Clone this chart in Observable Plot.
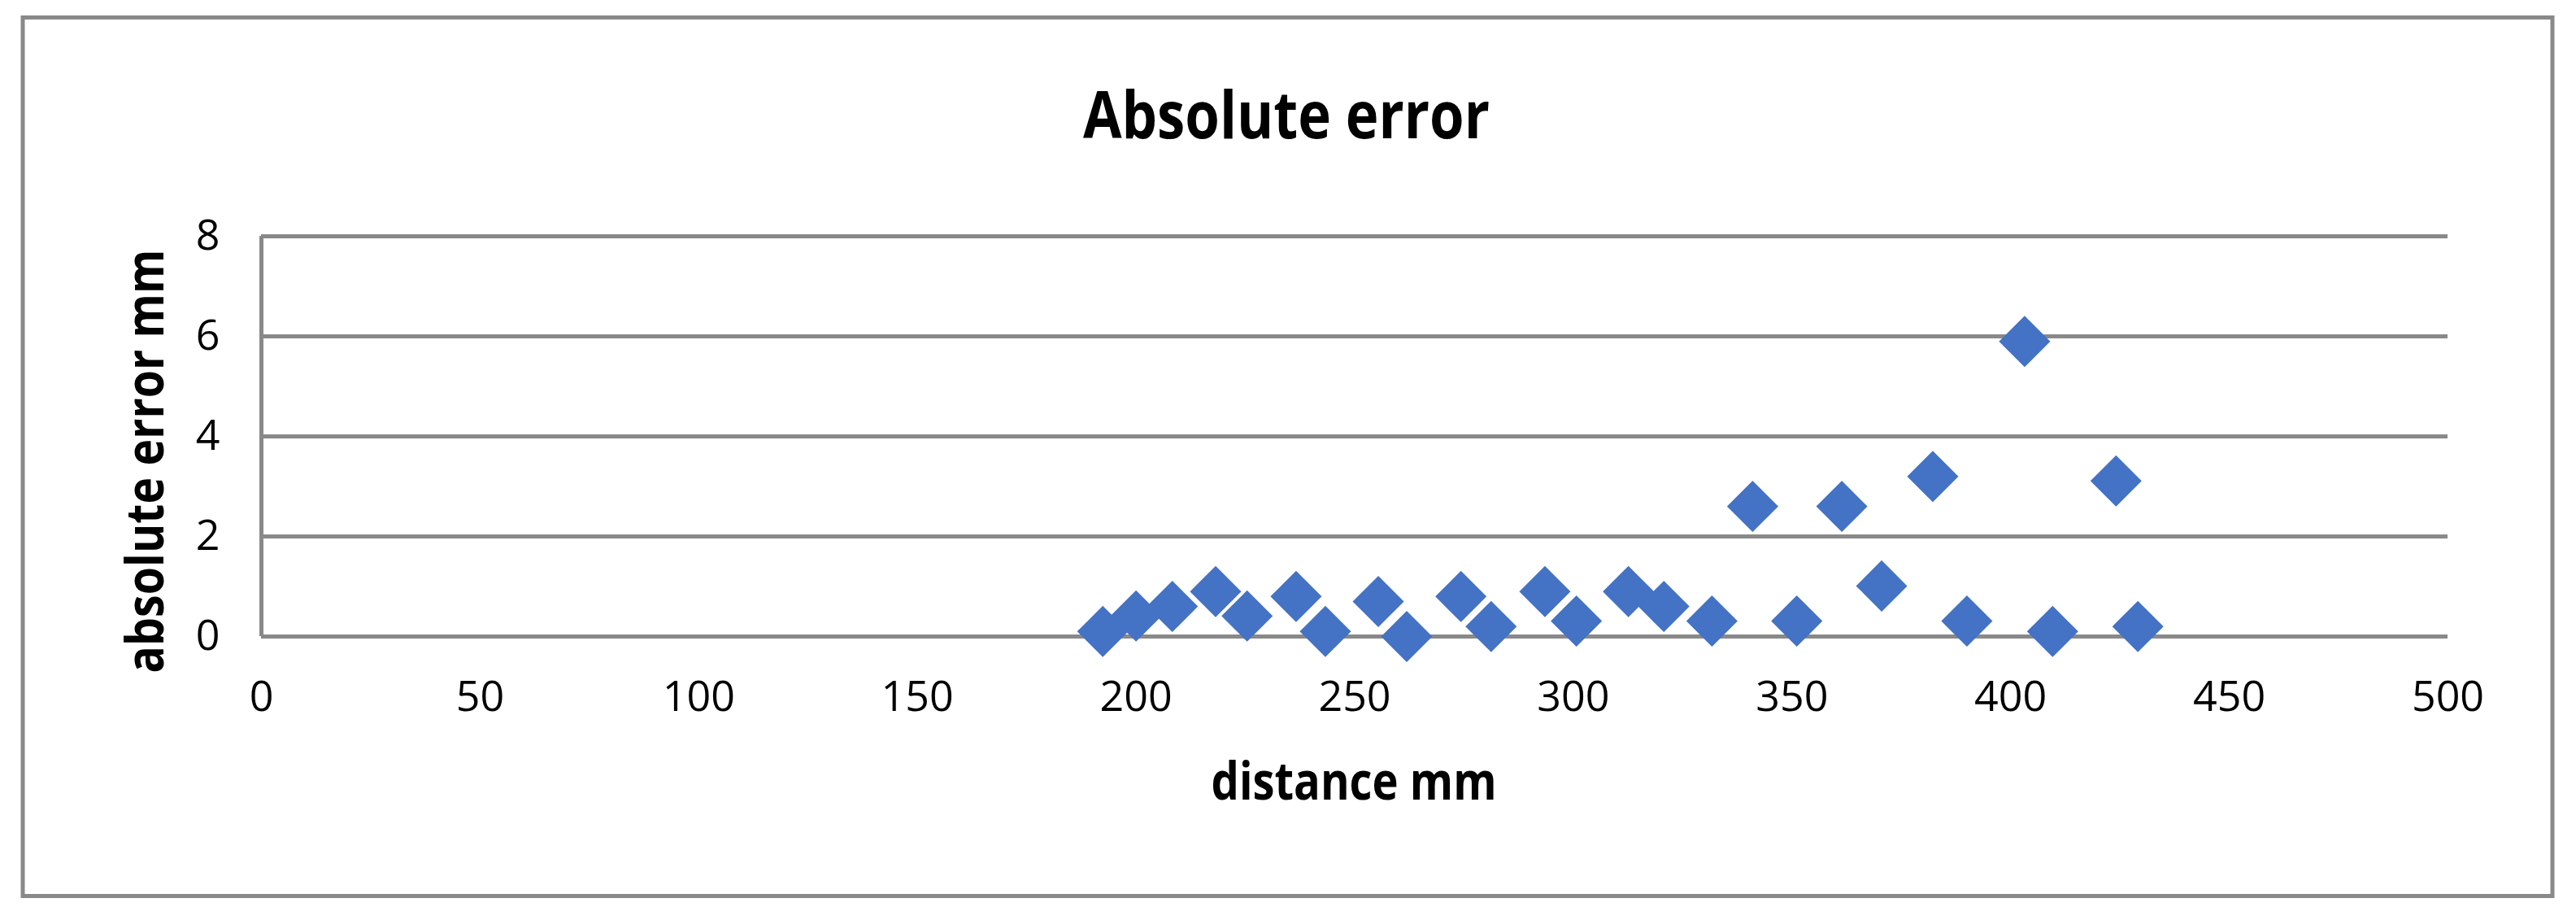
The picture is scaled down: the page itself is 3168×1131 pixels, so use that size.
<!DOCTYPE html>
<html>
<head>
<meta charset="utf-8">
<script src="https://cdn.jsdelivr.net/npm/d3@7"></script>
<script src="https://cdn.jsdelivr.net/npm/@observablehq/plot@0.6"></script>
<style>
  html, body { margin: 0; padding: 0; background: #ffffff; }
  #wrap { position: relative; width: 3168px; height: 1131px; background: #ffffff; overflow: hidden; }
  #chart, #overlay { position: absolute; left: 0; top: 0; }
  #overlay { pointer-events: none; }
</style>
</head>
<body>
<div id="wrap">
  <div id="chart"></div>
  <svg id="overlay" width="3168" height="1131" xmlns="http://www.w3.org/2000/svg">
    <rect x="28" y="21.5" width="3111" height="1080" fill="none" stroke="#898989" stroke-width="5"/>
    <text id="title" x="1582" y="170" text-anchor="middle" font-family="'Open Sans', 'Noto Sans', sans-serif" font-weight="700" font-size="80" textLength="500" lengthAdjust="spacingAndGlyphs" fill="#000">Absolute error</text>
    <text id="xlabel" x="1665" y="983" text-anchor="middle" font-family="'Open Sans', 'Noto Sans', sans-serif" font-weight="700" font-size="64" textLength="351" lengthAdjust="spacingAndGlyphs" fill="#000">distance mm</text>
    <text id="ylabel" transform="translate(201,567) rotate(-90)" text-anchor="middle" font-family="'Open Sans', 'Noto Sans', sans-serif" font-weight="700" font-size="64" textLength="521" lengthAdjust="spacingAndGlyphs" fill="#000">absolute error mm</text>
  </svg>
</div>
<script>
// Data
const distance = [192.4, 200.0, 208.3, 218.2, 225.4, 236.6, 243.3, 255.4, 261.9, 274.3, 281.2, 293.5, 300.7, 312.6, 320.7, 331.7, 341.0, 351.1, 361.4, 370.5, 382.2, 390.0, 403.2, 409.6, 424.1, 429.1];
const absError = [0.10, 0.41, 0.60, 0.90, 0.41, 0.80, 0.10, 0.70, 0.00, 0.80, 0.20, 0.90, 0.31, 0.90, 0.60, 0.31, 2.60, 0.31, 2.60, 1.01, 3.20, 0.31, 5.90, 0.10, 3.11, 0.20];
const xTicks = [0, 50, 100, 150, 200, 250, 300, 350, 400, 450, 500];
const yTicks = [0, 2, 4, 6, 8];

const data = distance.map((d, i) => ({distance: d, error: absError[i]}));

const gridColor = "#898989";
const pointColor = "#4472C4";

const chart = Plot.plot({
  width: 3168,
  height: 1131,
  marginLeft: 321,
  marginRight: 158,
  marginTop: 290,
  marginBottom: 349,
  style: {fontFamily: "'Open Sans', 'Noto Sans', sans-serif", fontSize: "52px", color: "#000", background: "transparent"},
  x: {domain: [0, 500]},
  y: {domain: [0, 8]},
  marks: [
    Plot.gridY(yTicks, {stroke: gridColor, strokeOpacity: 1, strokeWidth: 5}),
    Plot.ruleX([0], {stroke: gridColor, strokeOpacity: 1, strokeWidth: 5}),
    Plot.axisX(xTicks, {tickSize: 0, tickPadding: 55, label: null, fontSize: 52, tickFormat: d => String(d)}),
    Plot.axisY(yTicks, {tickSize: 0, tickPadding: 0, dx: -51, textAnchor: "end", label: null, fontSize: 52, tickFormat: d => String(d)}),
    Plot.dot(data, {x: "distance", y: "error", symbol: "diamond2", r: 28.4, fill: pointColor, stroke: "none"})
  ]
});
document.getElementById("chart").appendChild(chart);
</script>
</body>
</html>
